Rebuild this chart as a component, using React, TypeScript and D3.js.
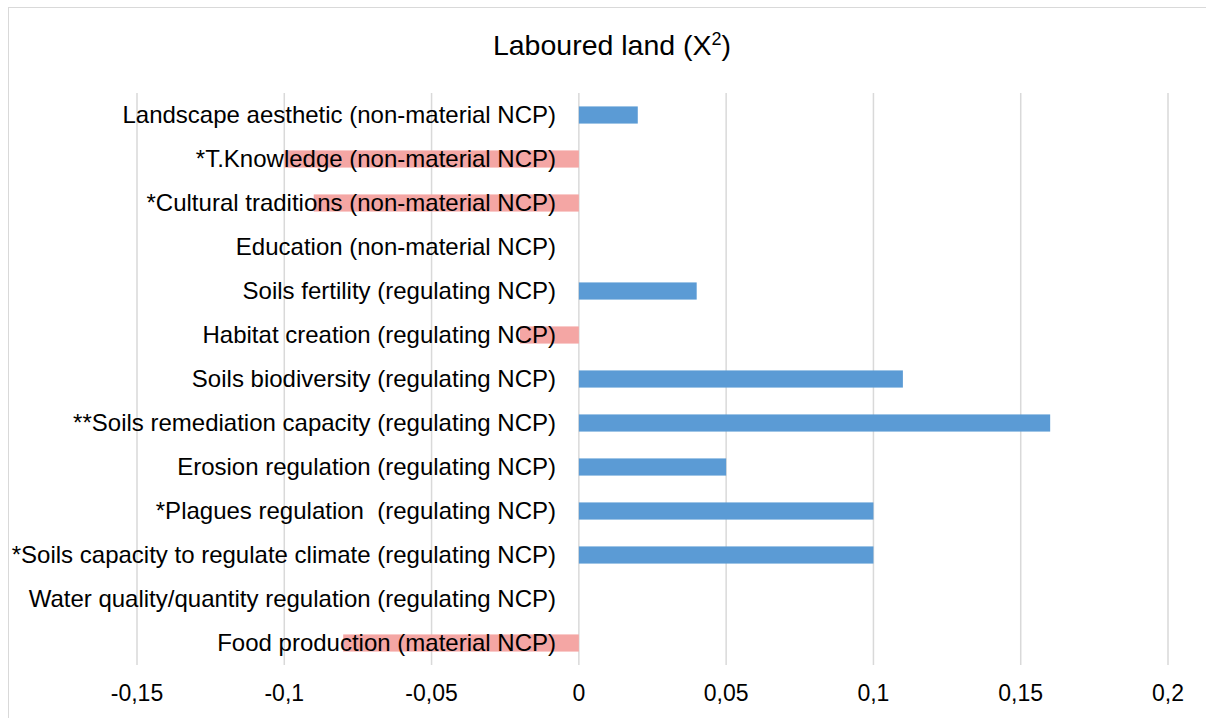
import React from "react";
import * as d3 from "d3";

const categories = [
  "Landscape aesthetic (non-material NCP)",
  "*T.Knowledge (non-material NCP)",
  "*Cultural traditions (non-material NCP)",
  "Education (non-material NCP)",
  "Soils fertility (regulating NCP)",
  "Habitat creation (regulating NCP)",
  "Soils biodiversity (regulating NCP)",
  "**Soils remediation capacity (regulating NCP)",
  "Erosion regulation (regulating NCP)",
  "*Plagues regulation  (regulating NCP)",
  "*Soils capacity to regulate climate (regulating NCP)",
  "Water quality/quantity regulation (regulating NCP)",
  "Food production (material NCP)",
];
const values = [0.02, -0.1, -0.09, 0, 0.04, -0.02, 0.11, 0.16, 0.05, 0.1, 0.1, 0, -0.08];
const ticks = [-0.15, -0.1, -0.05, 0, 0.05, 0.1, 0.15, 0.2];
const titleMain = "Laboured land (X";
const titleSup = "2";
const titleEnd = ")";

const W = 1206, H = 718;
const FONT = "Arial, 'Liberation Sans', sans-serif";

export default function App() {
  const x = d3.scaleLinear().domain([-0.15, 0.2]).range([137, 1168]);
  const y = d3.scaleBand().domain(categories).range([93, 665]).paddingInner(0.61).paddingOuter(0.305);
  const fmt = (v: number) => (Math.abs(v) < 1e-9 ? "0" : String(+v.toFixed(2)).replace(".", ","));
  return (
    <svg width={W} height={H} style={{ position: "absolute", left: 0, top: 0, background: "#fff" }}>
      <rect x={8.5} y={7.5} width={W} height={H} fill="#fff" stroke="#d9d9d9" strokeWidth={1} />
      <text x={612} y={55} textAnchor="middle" fontFamily={FONT} fontSize={28.5} fill="#000">
        {titleMain}
        <tspan fontSize={18} dy={-10}>{titleSup}</tspan>
        <tspan dy={10}>{titleEnd}</tspan>
      </text>
      {ticks.map((t) => (
        <line key={t} x1={x(t)} x2={x(t)} y1={93} y2={665} stroke="#d9d9d9" strokeWidth={1.5} />
      ))}
      {categories.map((c, i) => {
        const v = values[i];
        if (v === 0) return null;
        return (
          <rect
            key={c}
            x={Math.min(x(0), x(v))}
            y={y(c)}
            width={Math.abs(x(v) - x(0))}
            height={y.bandwidth()}
            fill={v < 0 ? "#F4A6A4" : "#5B9BD5"}
          />
        );
      })}
      {categories.map((c) => (
        <text
          key={c}
          x={556}
          y={(y(c) as number) + y.bandwidth() / 2}
          dy="0.35em"
          textAnchor="end"
          fontFamily={FONT}
          fontSize={24}
          fill="#000"
          style={{ whiteSpace: "pre" }}
        >
          {c}
        </text>
      ))}
      {ticks.map((t) => (
        <text key={t} x={x(t)} y={701} textAnchor="middle" fontFamily={FONT} fontSize={23} fill="#000">
          {fmt(t)}
        </text>
      ))}
    </svg>
  );
}
